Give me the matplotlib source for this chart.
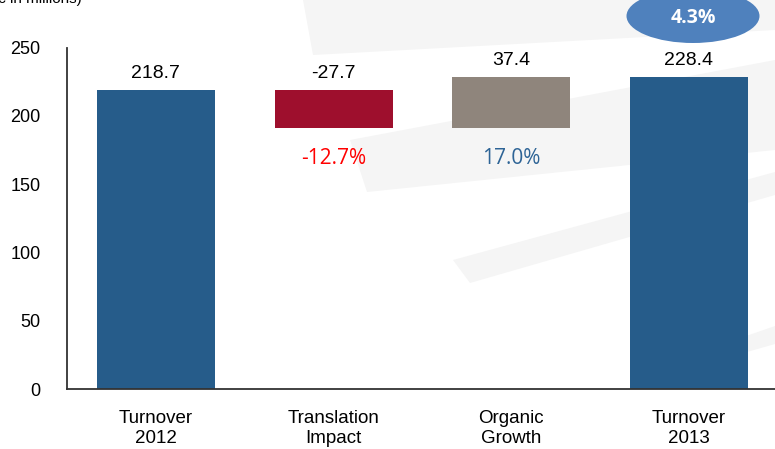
import matplotlib
matplotlib.use('Agg')
import matplotlib.pyplot as plt
from matplotlib.patches import Ellipse, Polygon

categorii = ['Turnover\n2012', 'Translation\nImpact', 'Organic\nGrowth', 'Turnover\n2013']
valori = [218.7, -27.7, 37.4, 228.4]
procente = ['', '-12.7%', '17.0%', '']
crestere_totala = '4.3%'

culori = ['#265C8A', '#9E0F2D', '#8F857C', '#265C8A']
culori_procente = ['black', '#FF0000', '#2E6496', 'black']

# baza si inaltimea fiecarei bare (waterfall)
baza = []
inaltime = []
nivel = 0.0
for i, v in enumerate(valori):
    if i == 0 or i == len(valori) - 1:
        baza.append(0)
        inaltime.append(v)
        nivel = v
    elif v < 0:
        nivel = nivel + v
        baza.append(nivel)
        inaltime.append(-v)
    else:
        baza.append(nivel)
        inaltime.append(v)
        nivel = nivel + v

W, H = 775, 449
fig = plt.figure(figsize=(W / 100, H / 100), dpi=100)

def px(x, y):
    return (x / W, 1 - y / H)

# fundal gri foarte deschis (forme diagonale)
forme = [
    [(303, 0), (775, 0), (775, 30), (313, 55)],
    [(350, 140), (775, 60), (775, 150), (367, 192)],
    [(453, 260), (775, 172), (775, 195), (470, 283)],
    [(700, 352), (775, 326), (775, 344), (712, 362)],
]
for f in forme:
    fig.patches.append(Polygon([px(*p) for p in f], closed=True,
                               transform=fig.transFigure, facecolor='#F5F5F5',
                               edgecolor='none', zorder=-1))

ax = fig.add_axes([67 / W, 1 - 389 / H, 1 - 67 / W, (389 - 47.5) / H])
ax.patch.set_alpha(0)

x = list(range(len(categorii)))
ax.bar(x, inaltime, bottom=baza, width=0.664, color=culori, zorder=2)

ax.set_xlim(-0.5, 3.484)
ax.set_ylim(0, 250)
ax.set_yticks([0, 50, 100, 150, 200, 250])
ax.set_xticks(x)
ax.set_xticklabels(categorii, fontsize=13.5, family=['Liberation Sans', 'DejaVu Sans'],
                   linespacing=1.25)
for lbl in ax.get_yticklabels():
    lbl.set_fontsize(13)
    lbl.set_family(['Liberation Sans', 'DejaVu Sans'])
ax.tick_params(axis='both', length=0)
ax.tick_params(axis='y', pad=19)
ax.tick_params(axis='x', pad=15)

ax.spines['top'].set_visible(False)
ax.spines['right'].set_visible(False)
for s in ['left', 'bottom']:
    ax.spines[s].set_color('#333333')
    ax.spines[s].set_linewidth(1.3)
    ax.spines[s].set_zorder(3)

# etichete valori
for i, v in enumerate(valori):
    varf = baza[i] + inaltime[i]
    ax.annotate(f'{v:.1f}', (i, varf), xytext=(0, 12), textcoords='offset points',
                ha='center', va='center', fontsize=14,
                family=['Liberation Sans', 'DejaVu Sans'], annotation_clip=False)

# procente sub barele intermediare
for i, p in enumerate(procente):
    if p:
        ax.annotate(p, (i, baza[i]), xytext=(0, -22), textcoords='offset points',
                    ha='center', va='center', fontsize=15, color=culori_procente[i],
                    family=['Open Sans', 'DejaVu Sans'])

# elipsa cu cresterea totala
el = Ellipse(px(693, 16), 133 / W, 54 / H, transform=fig.transFigure,
             facecolor='#4F81BD', edgecolor='none', zorder=5)
fig.patches.append(el)
fig.text(693 / W, 1 - 18 / H, crestere_totala, ha='center', va='center', color='white',
         fontsize=14, fontweight='bold', family=['Open Sans', 'DejaVu Sans'], zorder=6)

fig.text(-8 / W, 1 - 3 / H, '(€ in millions)', ha='left', va='baseline', fontsize=11,
         family=['Liberation Sans', 'DejaVu Sans'])

fig.savefig('out.png', dpi=100)
